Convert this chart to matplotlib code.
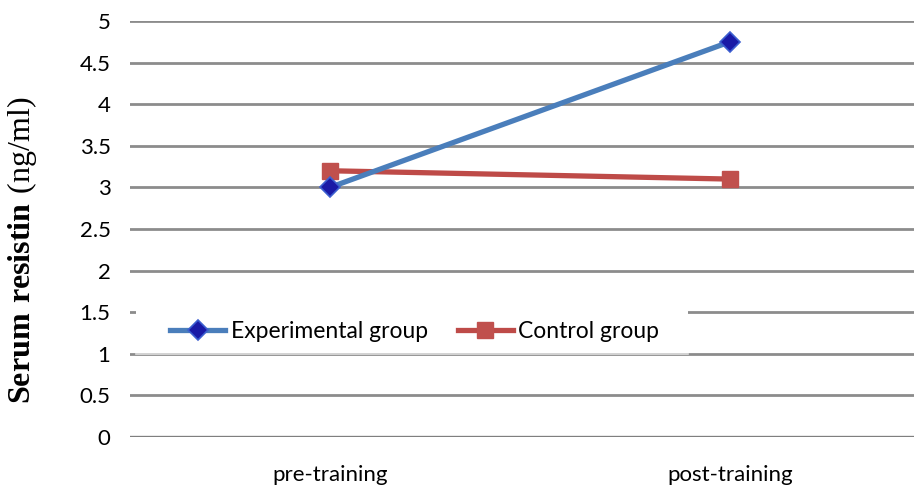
import matplotlib.pyplot as plt
from matplotlib.patches import Rectangle

# data
phases = ['pre-training', 'post-training']
experimental = [3.0, 4.75]
control = [3.2, 3.1]
yticks = [0, 0.5, 1, 1.5, 2, 2.5, 3, 3.5, 4, 4.5, 5]

plt.rcParams['mathtext.fontset'] = 'custom'
plt.rcParams['mathtext.rm'] = 'Liberation Serif'
plt.rcParams['mathtext.bf'] = 'Liberation Serif:bold'

fig = plt.figure(figsize=(9.14, 4.86), dpi=100)
ax = fig.add_axes([130 / 914, 49 / 486, 800 / 914, 416 / 486])

x = range(len(phases))
ax.plot(x, experimental, color='#4A7EBB', lw=3.8, marker='D', ms=10,
        mfc='#1A1AA6', mec='#3C5FD0', mew=1.2, label='Experimental group', zorder=4)
ax.plot(x, control, color='#BE4B48', lw=3.8, marker='s', ms=11,
        mfc='#C0504D', mec='#C0504D', label='Control group', zorder=3)

ax.set_xlim(-0.5, 1.5)
ax.set_ylim(0, 5)
ax.set_yticks(yticks)
ax.set_yticklabels([f'{t:g}' for t in yticks])
ax.set_xticks(list(x))
ax.set_xticklabels(phases)

ax.grid(axis='y', color='#8C8C8C', lw=2, zorder=0)
ax.set_axisbelow(True)
ax.axhline(0, color='#7F7F7F', lw=2.4, zorder=1)
for s in ax.spines.values():
    s.set_visible(False)
ax.tick_params(axis='y', length=0, pad=14, labelsize=16)
ax.tick_params(axis='x', length=0, pad=20, labelsize=16)
for lab in ax.get_xticklabels() + ax.get_yticklabels():
    lab.set_family('Lato')

ax.set_ylabel(r'$\mathbf{Serum\ resistin}\ \mathrm{(ng/ml)}$', fontsize=23)
ax.yaxis.set_label_coords(-0.114, 0.45)

# white legend area over the gridlines
ax.add_patch(Rectangle((-0.485, 1.01), 1.38, 0.52, facecolor='white',
                       edgecolor='none', zorder=2))
ax.plot([-0.485, 0.895], [1, 1], color='#E0E0E0', lw=1.2, zorder=2)

leg = ax.legend(loc='center', bbox_to_anchor=(0.356, 0.253), ncol=2,
                frameon=False, handlelength=2.4,
                columnspacing=1.3, handletextpad=0.25,
                prop={'family': 'Lato', 'size': 16.5})
leg.set_zorder(5)

fig.savefig('out.png', dpi=100)
